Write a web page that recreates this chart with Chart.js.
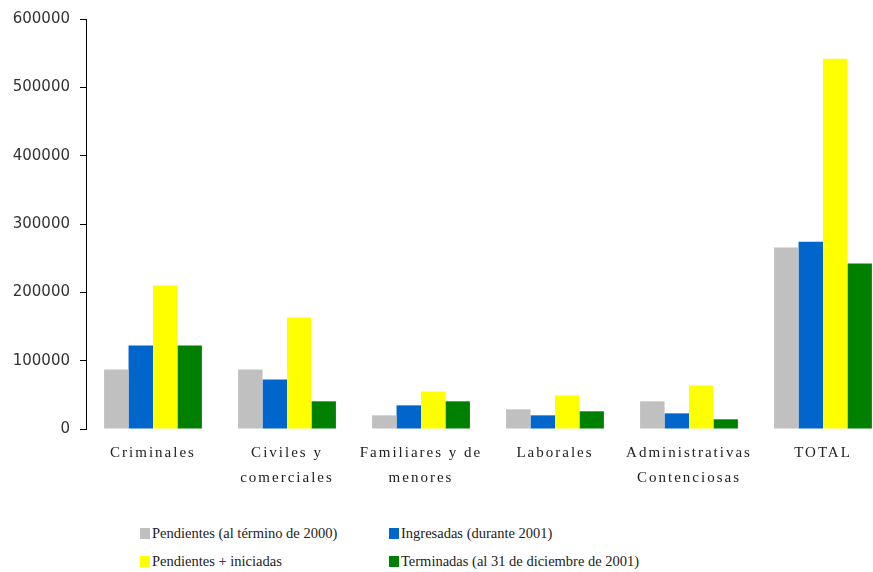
<!DOCTYPE html>
<html>
<head>
<meta charset="utf-8">
<script src="https://cdn.jsdelivr.net/npm/chart.js@4.4.0/dist/chart.umd.min.js"></script>
<style>
  html, body { margin: 0; padding: 0; background: #fff; overflow: hidden; width: 873px; height: 572px; }
  #wrap { position: absolute; left: 0; top: 0; width: 890px; height: 500px; }
  #legend { position: absolute; left: 140px; top: 525px; width: 733px; font-family: "Liberation Serif", serif; font-size: 14.5px; color: #222; }
  .item { position: absolute; display: flex; align-items: center; white-space: nowrap; }
  .box { width: 10px; height: 11px; margin-right: 2px; }
</style>
</head>
<body>
<div id="wrap"><canvas id="myChart" width="890" height="500"></canvas></div>
<div id="legend"></div>
<script>
// Data
const categories = [
  ["Criminales"],
  ["Civiles y", "comerciales"],
  ["Familiares y de", "menores"],
  ["Laborales"],
  ["Administrativas", "Contenciosas"],
  ["TOTAL"],
];
const seriesNames = [
  "Pendientes (al término de 2000)",
  "Ingresadas (durante 2001)",
  "Pendientes + iniciadas",
  "Terminadas (al 31 de diciembre de 2001)",
];
const pendientes = [87200, 87200, 20000, 28800, 40500, 265500];
const ingresadas = [122300, 72600, 34600, 20000, 22900, 274200];
const pendIniciadas = [210000, 163200, 55000, 49200, 63800, 541700];
const terminadas = [122300, 40500, 40500, 25900, 14200, 242100];
const colors = ["#C0C0C0", "#0066CC", "#FFFF00", "#008000"];
const yTicks = [0, 100000, 200000, 300000, 400000, 500000, 600000];

const allValues = [pendientes, ingresadas, pendIniciadas, terminadas];
const datasets = allValues.map((vals, i) => ({
  label: seriesNames[i],
  data: vals,
  backgroundColor: colors[i],
  borderWidth: 0,
  barPercentage: 1,
  categoryPercentage: 0.73,
}));

const chart = new Chart("myChart", {
  type: "bar",
  data: { labels: categories, datasets: datasets },
  options: {
    responsive: false,
    animation: false,
    layout: { padding: { top: 18, right: 0, left: 0, bottom: 0 } },
    scales: {
      x: {
        grid: { display: false },
        border: { display: false },
        ticks: {
          padding: 4,
          color: "#222",
          maxRotation: 0,
          autoSkip: false,
          font: { family: "'Liberation Serif', serif", size: 15, lineHeight: 1.65 },
        },
        afterFit: (s) => { s.height = 71; },
      },
      y: {
        min: 0,
        max: 600000,
        afterBuildTicks: (s) => { s.ticks = yTicks.map((v) => ({ value: v })); },
        grid: { drawOnChartArea: false, drawTicks: true, tickLength: 6, color: "#000" },
        border: { display: true, color: "#000", width: 1 },
        ticks: {
          padding: 10,
          color: "#333",
          font: { family: "'DejaVu Sans', sans-serif", size: 15 },
          callback: (v) => String(v),
        },
        afterFit: (s) => { s.width = 86; },
      },
    },
    plugins: {
      legend: { display: false },
      tooltip: { enabled: false },
    },
  },
});

// the category labels in the original are widely spaced
const xs = chart.scales.x;
const origDraw = xs.drawLabels.bind(xs);
xs.drawLabels = function (area) {
  const ctx = chart.ctx;
  ctx.save();
  ctx.letterSpacing = "2px";
  origDraw(area);
  ctx.restore();
};
chart.draw();

// legend in two columns, like the original
const legend = document.getElementById("legend");
const spots = [[0, 0], [249, 0], [0, 28], [249, 28]];
seriesNames.forEach((name, i) => {
  const it = document.createElement("div");
  it.className = "item";
  it.style.left = spots[i][0] + "px";
  it.style.top = spots[i][1] + "px";
  it.innerHTML = '<span class="box" style="background:' + colors[i] + '"></span>' + name;
  legend.appendChild(it);
});
</script>
</body>
</html>
